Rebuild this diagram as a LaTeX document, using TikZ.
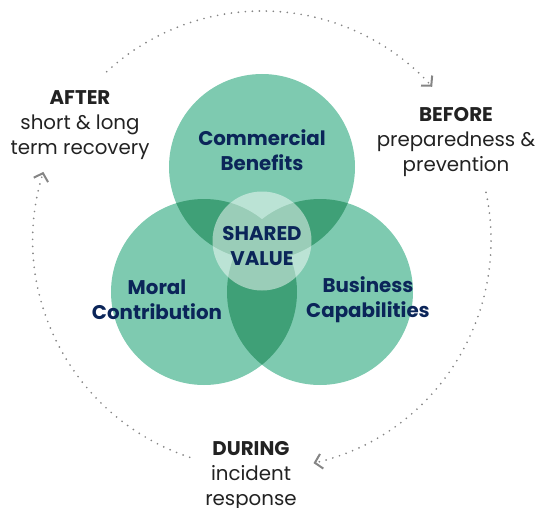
\documentclass[tikz,border=0pt]{standalone}
\usepackage{fontspec}
\setmainfont{Poppins}
\usetikzlibrary{arrows.meta}
\definecolor{mint}{HTML}{7ECAB0}
\definecolor{leaf}{HTML}{3FA077}
\definecolor{navy}{HTML}{0B2559}
\definecolor{ink}{HTML}{222222}
\definecolor{dotgray}{HTML}{858585}

\begin{document}
\begin{tikzpicture}[x=1pt, y=1pt,
  every node/.style={font=\fontsize{19.8}{25}\selectfont, align=center},
  pillar/.style={font=\fontsize{19.8}{25}\selectfont\bfseries, text=navy},
  phase/.style={text=ink},
  cycle/.style={dotgray, line width=1.9pt, line cap=round, dash pattern=on 0pt off 7pt,
    -{Straight Barb[length=7pt, width=15pt, line width=2pt]}}]
  \useasboundingbox (0,0) rectangle (538,507);

  % circle centres
  \coordinate (cb) at (262,340);
  \coordinate (mc) at (204,215);
  \coordinate (bc) at (320,215);
  \coordinate (sv) at (262,266);

  % three circles
  \fill[mint] (cb) circle (93);
  \fill[mint] (mc) circle (93);
  \fill[mint] (bc) circle (93);
  % overlaps
  \begin{scope}
    \clip (cb) circle (93);
    \fill[leaf] (mc) circle (93);
    \fill[leaf] (bc) circle (93);
  \end{scope}
  \begin{scope}
    \clip (mc) circle (93);
    \fill[leaf] (bc) circle (93);
  \end{scope}
  % shared value
  \fill[white, opacity=0.48] (sv) circle (49.5);

  \node[pillar] (cbtext) at (262,357) {Commercial\\Benefits};
  \node[pillar] (mctext) at (157,207) {Moral\\Contribution};
  \node[pillar] (bctext) at (368,207) {Business\\Capabilities};
  \node[pillar] (svtext) at (262,261) {SHARED\\VALUE};

  \node[phase] (after) at (80,382) {\textbf{AFTER}\\short \& long\\term recovery};
  \node[phase] (before) at (456,365) {\textbf{BEFORE}\\preparedness \&\\prevention};
  \node[phase] (during) at (251,31) {\textbf{DURING}\\incident\\response};

  % dotted cycle
  \coordinate (ring) at (262,267);
  \path (ring) ++(132.7:229) coordinate (topstart)
        (ring) ++(12:229) coordinate (rightstart)
        (ring) ++(251.6:229) coordinate (leftstart);
  \draw[cycle] (topstart) arc[start angle=132.7, end angle=42, radius=229];
  \draw[cycle] (rightstart) arc[start angle=12, end angle=-77, radius=229];
  \draw[cycle] (leftstart) arc[start angle=251.6, end angle=162.7, radius=229];
\end{tikzpicture}
\end{document}
